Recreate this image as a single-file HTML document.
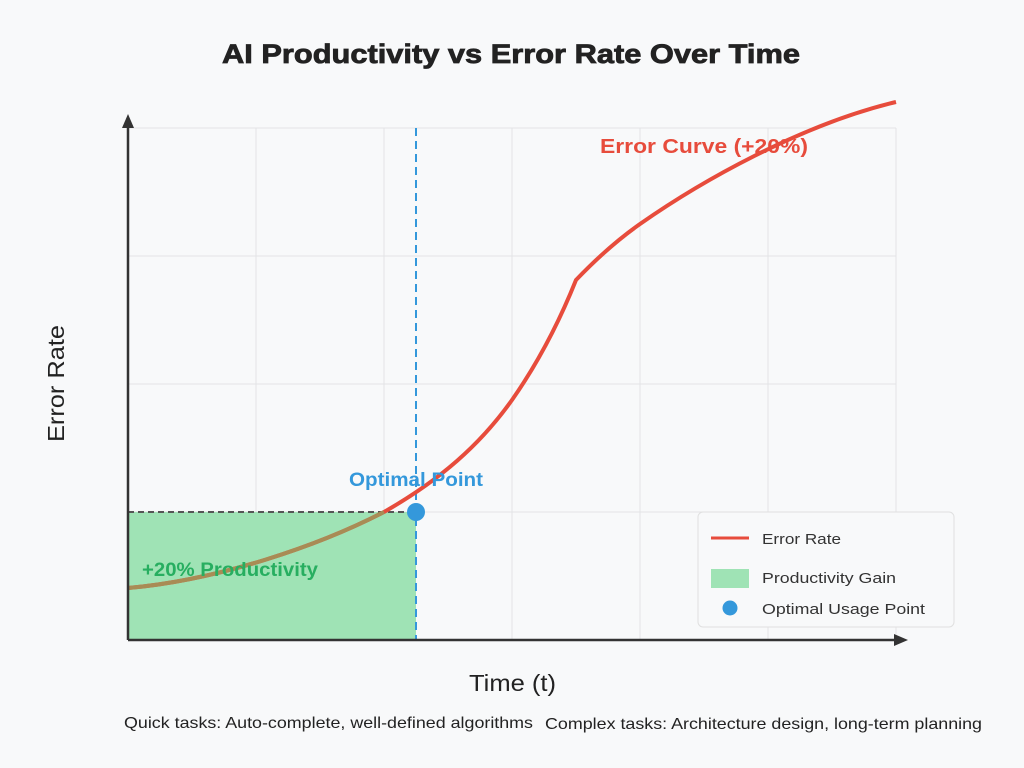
<!DOCTYPE html>
<html><head><meta charset="utf-8"><style>
html,body{margin:0;padding:0;background:#f8f9fa;}
svg{display:block;font-family:"Liberation Sans",sans-serif;}
</style></head><body>
<svg width="1024" height="768" viewBox="0 0 1024 768">
<rect width="1024" height="768" fill="#f8f9fa"/>
<text x="222" y="63" font-size="27" font-weight="bold" fill="#222" textLength="578" lengthAdjust="spacingAndGlyphs" stroke="#222" stroke-width="0.8">AI Productivity vs Error Rate Over Time</text>
<g stroke="#e3e4e6" stroke-width="1">
<line x1="256" y1="128" x2="256" y2="640"/><line x1="384" y1="128" x2="384" y2="640"/>
<line x1="512" y1="128" x2="512" y2="640"/><line x1="640" y1="128" x2="640" y2="640"/>
<line x1="768" y1="128" x2="768" y2="640"/><line x1="896" y1="128" x2="896" y2="640"/>
<line x1="128" y1="128" x2="896" y2="128"/><line x1="128" y1="256" x2="896" y2="256"/>
<line x1="128" y1="384" x2="896" y2="384"/><line x1="128" y1="512" x2="896" y2="512"/>
</g>
<rect x="128" y="512" width="288" height="128" fill="#9fe3b5"/>
<line x1="128" y1="512" x2="416" y2="512" stroke="#555" stroke-width="2" stroke-dasharray="6,4"/>
<line x1="416" y1="128" x2="416" y2="640" stroke="#3498db" stroke-width="2" stroke-dasharray="8,5"/>
<path d="M128,588 C220,580 320,545 384,512 C440,480 480,445 512,400 C540,360 560,320 576,280 C600,255 620,238 640,224 C700,182 800,125 896,102" fill="none" stroke="#e74c3c" stroke-width="4"/>
<path d="M128,588 C220,580 320,545 384,512" fill="none" stroke="#a88c55" stroke-width="4"/>
<circle cx="416" cy="512" r="9" fill="#3498db"/>
<line x1="128" y1="640" x2="900" y2="640" stroke="#333" stroke-width="2.5"/>
<polygon points="908,640 894,634 894,646" fill="#333"/>
<line x1="128" y1="640" x2="128" y2="124" stroke="#333" stroke-width="2.5"/>
<polygon points="128,114 122,128 134,128" fill="#333"/>
<text x="349" y="486" font-size="19" font-weight="bold" fill="#3498db" textLength="134" lengthAdjust="spacingAndGlyphs">Optimal Point</text>
<text x="142" y="576" font-size="19" font-weight="bold" fill="#27ae60" textLength="176" lengthAdjust="spacingAndGlyphs">+20% Productivity</text>
<text x="600" y="153" font-size="20" font-weight="bold" fill="#e74c3c" textLength="208" lengthAdjust="spacingAndGlyphs">Error Curve (+20%)</text>
<text x="469" y="691" font-size="23" fill="#222" textLength="87" lengthAdjust="spacingAndGlyphs">Time (t)</text>
<text transform="translate(64,442) rotate(-90)" font-size="23" fill="#222" textLength="117" lengthAdjust="spacingAndGlyphs">Error Rate</text>
<text x="124" y="728" font-size="16" fill="#222" textLength="409" lengthAdjust="spacingAndGlyphs">Quick tasks: Auto-complete, well-defined algorithms</text>
<text x="545" y="729" font-size="16" fill="#222" textLength="437" lengthAdjust="spacingAndGlyphs">Complex tasks: Architecture design, long-term planning</text>
<rect x="698" y="512" width="256" height="115" rx="5" fill="#f8f9fa" stroke="#e0e0e0"/>
<line x1="711" y1="538" x2="749" y2="538" stroke="#e74c3c" stroke-width="3"/>
<text x="762" y="544" font-size="15" fill="#333" textLength="79" lengthAdjust="spacingAndGlyphs">Error Rate</text>
<rect x="711" y="569" width="38" height="19" fill="#9fe3b5"/>
<text x="762" y="583" font-size="15" fill="#333" textLength="134" lengthAdjust="spacingAndGlyphs">Productivity Gain</text>
<circle cx="730" cy="608" r="7.5" fill="#3498db"/>
<text x="762" y="614" font-size="15" fill="#333" textLength="163" lengthAdjust="spacingAndGlyphs">Optimal Usage Point</text>
</svg>
</body></html>
